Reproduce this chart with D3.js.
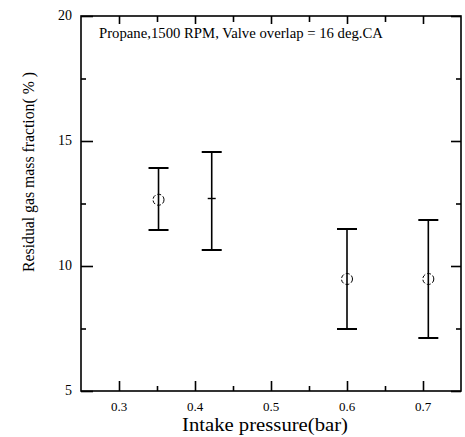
<!DOCTYPE html>
<html>
<head>
<meta charset="utf-8">
<script src="https://cdn.jsdelivr.net/npm/d3@7"></script>
<style>
  body { margin: 0; background: #fff; }
  text { font-family: "Liberation Serif", "DejaVu Serif", serif; }
</style>
</head>
<body>
<svg id="chart" width="465" height="437"></svg>
<script>
// values
var pressure = [0.352, 0.422, 0.600, 0.707];
var fraction = [12.65, 12.7, 9.48, 9.48];
var errLow = [11.44, 10.64, 7.48, 7.12];
var errHigh = [13.92, 14.56, 11.48, 11.84];
var marker = ["o", "+", "o", "o"];
var xTicks = [0.3, 0.4, 0.5, 0.6, 0.7];
var xMinor = [0.35, 0.45, 0.55, 0.65];
var yTicks = [5, 10, 15, 20];
var yMinor = [7.5, 12.5, 17.5];

var svg = d3.select("#chart"),
    margin = {top: 16, right: 4, bottom: 46, left: 81},
    width = +svg.attr("width") - margin.left - margin.right,
    height = +svg.attr("height") - margin.top - margin.bottom;

var x = d3.scaleLinear().domain([0.25, 0.75]).range([0, width]),
    y = d3.scaleLinear().domain([5, 20]).range([height, 0]);

var g = svg.append("g")
    .attr("transform", "translate(" + margin.left + "," + margin.top + ")");

// frame
g.append("rect")
    .attr("width", width)
    .attr("height", height)
    .attr("fill", "none")
    .attr("stroke", "#000")
    .attr("stroke-width", 1.6);

// inward ticks on all four sides
function ticks(axis, n, len) {
  g.append("g").attr("transform", axis.pos)
    .call(axis.fn(axis.scale).tickValues(n).tickSize(-len).tickFormat(""))
    .call(function(s) { s.select(".domain").remove(); })
    .selectAll("line").attr("stroke-width", 1.6);
}
ticks({fn: d3.axisBottom, scale: x, pos: "translate(0," + height + ")"}, xTicks, 10);
ticks({fn: d3.axisBottom, scale: x, pos: "translate(0," + height + ")"}, xMinor, 5);
ticks({fn: d3.axisTop, scale: x, pos: "translate(0,0)"}, xTicks, 8);
ticks({fn: d3.axisTop, scale: x, pos: "translate(0,0)"}, xMinor, 6);
ticks({fn: d3.axisLeft, scale: y, pos: "translate(0,0)"}, yTicks, 12);
ticks({fn: d3.axisLeft, scale: y, pos: "translate(0,0)"}, yMinor, 5);
ticks({fn: d3.axisRight, scale: y, pos: "translate(" + width + ",0)"}, yTicks, 10);
ticks({fn: d3.axisRight, scale: y, pos: "translate(" + width + ",0)"}, yMinor, 5);

// tick labels
g.selectAll(".xlab")
  .data(xTicks)
  .enter().append("text")
    .attr("x", function(d) { return x(d); })
    .attr("y", height + 20)
    .attr("text-anchor", "middle")
    .attr("font-size", "13px")
    .text(function(d) { return d.toFixed(1); });

g.selectAll(".ylab")
  .data(yTicks)
  .enter().append("text")
    .attr("x", -9)
    .attr("y", function(d) { return y(d); })
    .attr("dy", "0.32em")
    .attr("text-anchor", "end")
    .attr("font-size", "14px")
    .text(function(d) { return d; });

// error bars
var pts = pressure.map(function(p, i) {
  return {p: p, v: fraction[i], lo: errLow[i], hi: errHigh[i], m: marker[i]};
});

var bars = g.selectAll(".err").data(pts).enter().append("g")
    .attr("stroke", "#000")
    .attr("stroke-width", 1.6);
bars.append("line")
    .attr("x1", function(d) { return x(d.p); })
    .attr("x2", function(d) { return x(d.p); })
    .attr("y1", function(d) { return y(d.lo); })
    .attr("y2", function(d) { return y(d.hi); });
bars.selectAll(".cap")
  .data(function(d) { return [{p: d.p, v: d.lo}, {p: d.p, v: d.hi}]; })
  .enter().append("line")
    .attr("x1", function(d) { return x(d.p) - 10; })
    .attr("x2", function(d) { return x(d.p) + 10; })
    .attr("y1", function(d) { return y(d.v); })
    .attr("y2", function(d) { return y(d.v); })
    .attr("stroke-width", 2);

// markers
g.selectAll(".pt")
  .data(pts.filter(function(d) { return d.m == "o"; }))
  .enter().append("circle")
    .attr("cx", function(d) { return x(d.p); })
    .attr("cy", function(d) { return y(d.v); })
    .attr("r", 5.5)
    .attr("fill", "none")
    .attr("stroke", "#000")
    .attr("stroke-width", 1)
    .attr("stroke-dasharray", "4,2");
g.selectAll(".cross")
  .data(pts.filter(function(d) { return d.m == "+"; }))
  .enter().append("line")
    .attr("x1", function(d) { return x(d.p) - 4; })
    .attr("x2", function(d) { return x(d.p) + 4; })
    .attr("y1", function(d) { return y(d.v); })
    .attr("y2", function(d) { return y(d.v); })
    .attr("stroke", "#000")
    .attr("stroke-width", 1.4);

// title inside frame
g.append("text")
    .attr("x", 18)
    .attr("y", 22)
    .attr("font-size", "14px")
    .attr("textLength", 284)
    .attr("lengthAdjust", "spacingAndGlyphs")
    .text("Propane,1500 RPM, Valve overlap = 16 deg.CA");

// axis titles
svg.append("text")
    .attr("x", margin.left + x(0.5) - 6)
    .attr("y", 431)
    .attr("text-anchor", "middle")
    .attr("font-size", "18px")
    .attr("textLength", 166)
    .attr("lengthAdjust", "spacingAndGlyphs")
    .text("Intake pressure(bar)");

svg.append("text")
    .attr("transform", "translate(34,172) rotate(-90)")
    .attr("text-anchor", "middle")
    .attr("font-size", "16px")
    .attr("textLength", 200)
    .attr("lengthAdjust", "spacingAndGlyphs")
    .text("Residual gas mass fraction( % )");
</script>
</body>
</html>
